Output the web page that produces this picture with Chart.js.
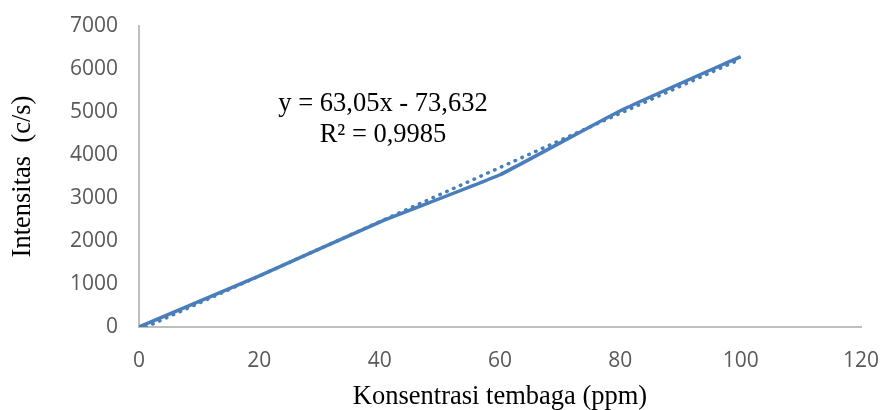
<!DOCTYPE html>
<html>
<head>
<meta charset="utf-8">
<script src="https://cdn.jsdelivr.net/npm/chart.js@4/dist/chart.umd.min.js"></script>
<style>
  html, body { margin: 0; padding: 0; background: #fff; }
  #wrap { width: 880px; height: 410px; }
</style>
</head>
<body>
<div id="wrap"><canvas id="chart" width="880" height="410"></canvas></div>
<script>
// concentration (ppm) and measured intensity (c/s)
const konsentrasi = [0, 20, 40, 60, 80, 100];
const intensitas = [0, 1190, 2440, 3540, 5030, 6290];

// linear trendline endpoints (y = 63,05x - 73,632)
const trendX = [0, 100];
const trendY = [-73.6, 6231.4];

const equationLines = ["y = 63,05x - 73,632", "R\u00b2 = 0,9985"];

const blue = "#4a7ebb";
const serif = "'Liberation Serif', 'Times New Roman', serif";
const sans = "'Open Sans', 'Liberation Sans', sans-serif";

const equationLabel = {
  id: "equationLabel",
  afterDatasetsDraw(chart) {
    const ctx = chart.ctx;
    const area = chart.chartArea;
    ctx.save();
    ctx.fillStyle = "#000";
    ctx.font = "26.5px " + serif;
    ctx.textAlign = "center";
    ctx.textBaseline = "middle";
    ctx.fillText(equationLines[0], area.left + 244, area.top + 78);
    ctx.fillText(equationLines[1], area.left + 244, area.top + 109);
    ctx.restore();
  }
};

new Chart(document.getElementById("chart").getContext("2d"), {
  type: "scatter",
  data: {
    datasets: [
      {
        label: "Intensitas",
        data: konsentrasi.map((x, i) => ({ x: x, y: intensitas[i] })),
        showLine: true,
        borderColor: blue,
        borderWidth: 3.5,
        pointRadius: 0,
        tension: 0.1
      },
      {
        label: "Linear",
        data: trendX.map((x, i) => ({ x: x, y: trendY[i] })),
        showLine: true,
        borderColor: blue,
        borderWidth: 3.5,
        borderDash: [0.5, 7],
        borderCapStyle: "round",
        pointRadius: 0
      }
    ]
  },
  options: {
    responsive: false,
    animation: false,
    layout: { padding: { top: 26, right: 19, left: 0, bottom: 0 } },
    plugins: {
      legend: { display: false },
      tooltip: { enabled: false }
    },
    scales: {
      x: {
        type: "linear",
        min: 0,
        max: 120,
        ticks: {
          stepSize: 20,
          padding: 21,
          color: "#595959",
          font: { family: sans, size: 21 },
          callback: (v) => String(v)
        },
        grid: { display: false, drawTicks: false },
        border: { color: "#bfbfbf", width: 2 },
        title: {
          display: true,
          text: "Konsentrasi tembaga (ppm)",
          color: "#000",
          font: { family: serif, size: 26.5, lineHeight: 1 },
          padding: { top: 0, bottom: 0 }
        },
        afterFit(scale) {
          scale.height = 83;
          scale.paddingLeft = 0;
          scale.paddingRight = 0;
        }
      },
      y: {
        min: 0,
        max: 7000,
        ticks: {
          stepSize: 1000,
          padding: 21,
          color: "#595959",
          font: { family: sans, size: 21 },
          callback: (v) => String(v)
        },
        grid: { display: false, drawTicks: false },
        border: { color: "#bfbfbf", width: 2 },
        title: {
          display: true,
          text: "Intensitas  (c/s)",
          color: "#000",
          font: { family: serif, size: 26.5, lineHeight: 1 },
          padding: { top: 10, bottom: 0 }
        },
        afterFit(scale) {
          scale.width = 139;
          scale.paddingTop = 0;
          scale.paddingBottom = 0;
        }
      }
    }
  },
  plugins: [equationLabel]
});
</script>
</body>
</html>
